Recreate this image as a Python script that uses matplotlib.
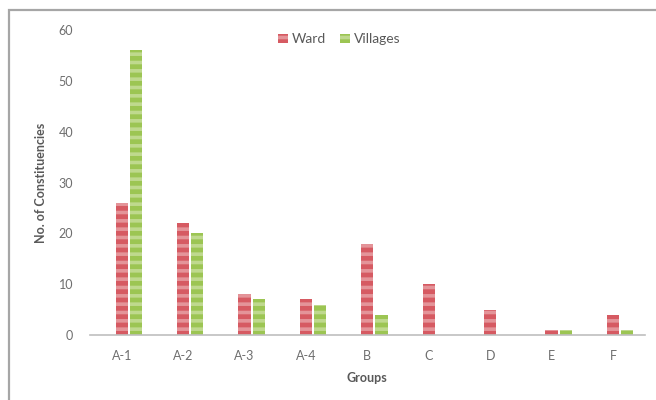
import matplotlib.pyplot as plt
from matplotlib.patches import Rectangle

groups = ["A-1", "A-2", "A-3", "A-4", "B", "C", "D", "E", "F"]
ward = [26, 22, 8, 7, 18, 10, 5, 1, 4]
villages = [56, 20, 7, 6, 4, 0, 0, 1, 1]

plt.rcParams['font.family'] = ['Lato', 'DejaVu Sans']
plt.rcParams['hatch.linewidth'] = 2.6

fig = plt.figure(figsize=(6.56, 4.0), dpi=100)
ax = fig.add_axes([0.137, 0.1625, 0.846, 0.7625])

# light grey frame round the whole chart
fig.patches.append(Rectangle((0.014, -0.02), 1.0, 0.995, transform=fig.transFigure,
                             fill=False, edgecolor="#a6a6a6", linewidth=1.6))

x = list(range(len(groups)))
w = 0.2
red = "#d65a62"
green = "#9cc553"
ax.bar([i for i in x], ward, width=w, color=red, edgecolor="#e49499",
       hatch="--", linewidth=0, label="Ward")
ax.bar([i + 0.23 for i in x], villages, width=w, color=green, edgecolor="#bfd98e",
       hatch="--", linewidth=0, label="Villages")

ax.set_xlim(-0.52, 8.52)
ax.set_ylim(0, 60)
ax.set_yticks(range(0, 61, 10))
ax.set_xticks(x)
ax.set_xticklabels(groups)

for s in ["top", "right", "left"]:
    ax.spines[s].set_visible(False)
ax.spines["bottom"].set_color("#bfbfbf")
ax.spines["bottom"].set_linewidth(1.2)
ax.tick_params(axis="both", length=0, labelsize=9, labelcolor="#6e6e6e")
ax.tick_params(axis="x", pad=11)
ax.tick_params(axis="y", pad=12)

ax.set_xlabel("Groups", fontsize=9, fontweight="bold", color="#595959", labelpad=7)
ax.set_ylabel("No. of Constituencies", fontsize=9, fontweight="bold", color="#595959", labelpad=8)

ax.legend(loc="upper center", bbox_to_anchor=(0.45, 1.03), ncol=2, frameon=False,
          fontsize=10, handlelength=0.7, handleheight=0.7, handletextpad=0.3,
          columnspacing=1.0, labelcolor="#595959")

fig.savefig("out.png", dpi=100)
